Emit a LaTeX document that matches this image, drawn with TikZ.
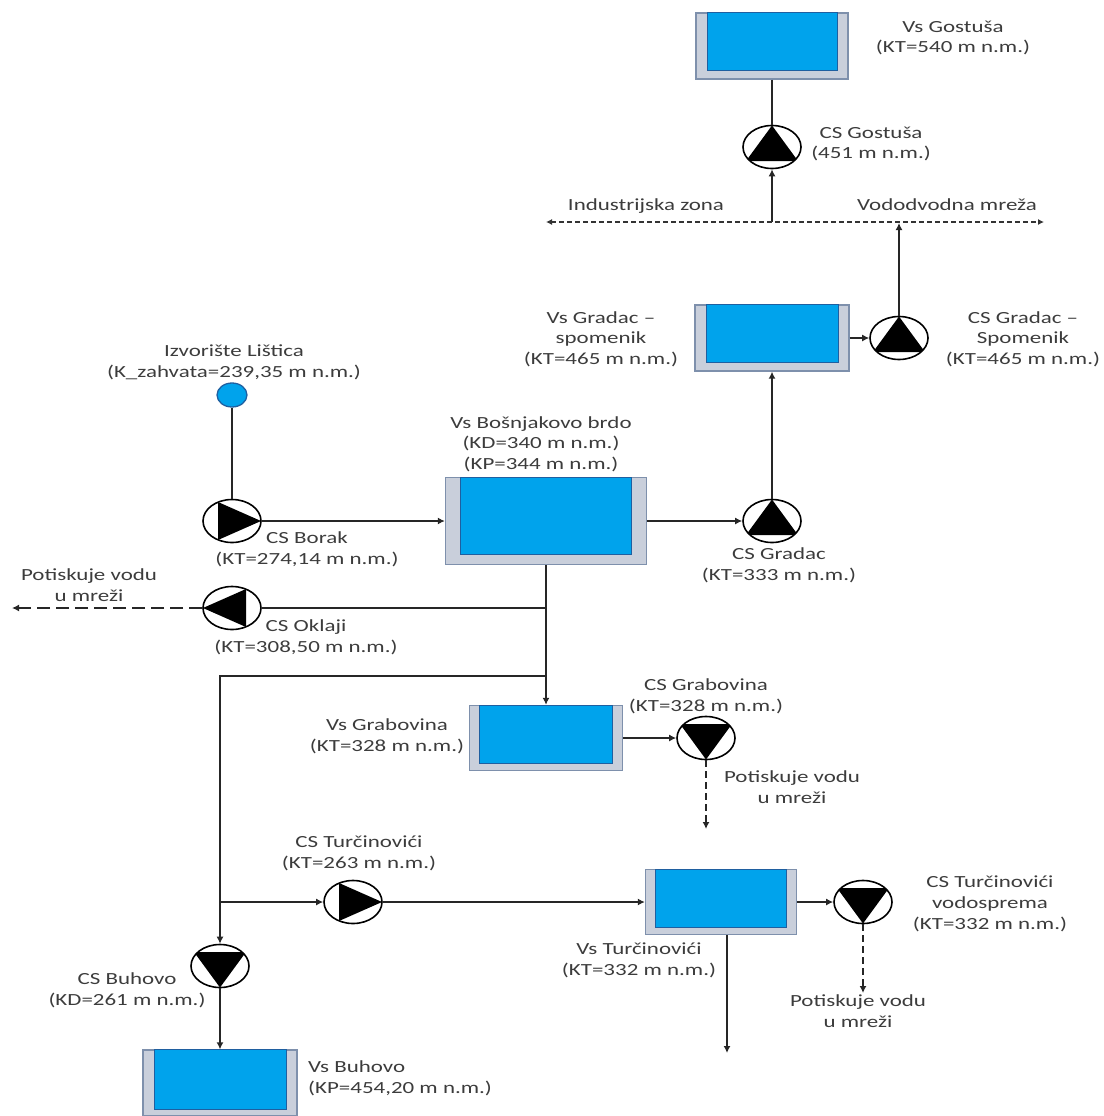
\documentclass[tikz,border=0pt]{standalone}
\usepackage{xcolor}
\usepackage{fontspec}
\setmainfont[FakeStretch=1.35]{Carlito}
\usetikzlibrary{shapes.geometric,arrows.meta}
\definecolor{tankgray}{HTML}{C9CFDB}
\definecolor{tankedge}{HTML}{7E90AC}
\definecolor{waterblue}{HTML}{00A3EC}
\definecolor{wateredge}{HTML}{1F5FA0}
\definecolor{labelgray}{HTML}{3C3C3C}
\tikzset{
	lbl/.style={align=center,inner sep=0,text=labelgray,font=\fontsize{17}{20.7}\selectfont},
	tankbox/.style={draw=tankedge,line width=1.3pt,fill=tankgray,inner sep=0},
	waterbox/.style={draw=wateredge,line width=1pt,fill=waterblue,inner sep=0,anchor=north},
	pumpbox/.style={ellipse,draw=black,line width=1.6pt,fill=white,inner sep=0,minimum width=58,minimum height=43},
	pumpup/.style={pumpbox,path picture={\fill[black] (path picture bounding box.north)
		-- ([shift={(26,14)}]path picture bounding box.center)
		-- ([shift={(-26,14)}]path picture bounding box.center) -- cycle;}},
	pumpdown/.style={pumpbox,path picture={\fill[black] (path picture bounding box.south)
		-- ([shift={(26,-14)}]path picture bounding box.center)
		-- ([shift={(-26,-14)}]path picture bounding box.center) -- cycle;}},
	pumpright/.style={pumpbox,path picture={\fill[black] (path picture bounding box.east)
		-- ([shift={(-14,-19)}]path picture bounding box.center)
		-- ([shift={(-14,19)}]path picture bounding box.center) -- cycle;}},
	pumpleft/.style={pumpbox,path picture={\fill[black] (path picture bounding box.west)
		-- ([shift={(14,-19)}]path picture bounding box.center)
		-- ([shift={(14,19)}]path picture bounding box.center) -- cycle;}},
	pipe/.style={line width=1.5pt,color=black!85},
	stem/.style={line width=2.4pt,color=black!85},
	tip/.style={-{Latex[length=7pt,width=7pt]}},
	netflow/.style={line width=1.1pt,color=black!80,dash pattern=on 5pt off 3pt,{Latex[length=6pt,width=6pt]}-{Latex[length=6pt,width=6pt]}},
	outflow/.style={line width=1.4pt,color=black!85,dash pattern=on 13pt off 6pt,tip},
	downflow/.style={line width=2pt,color=black!85,dash pattern=on 7pt off 4pt,tip},
}
\begin{document}
\begin{tikzpicture}[x=1pt,y=-1pt]
\useasboundingbox (0,0) rectangle (1103,1116);
% tanks
\foreach \name/\x/\y/\w/\h/\mx/\my in {Gostusa/772/46/152/66/11/8,Gradac/772/338/154/66/11/8,Bosnjakovo/546/521/201/87/15/10,
	Grabovina/546/738/153/65/10/7,Turcinovici/721/902/151/65/10/7,Buhovo/220/1083/154/66/11/6}{
	\node[tankbox,minimum width=\w,minimum height=\h] (tank\name) at (\x,\y) {};
	\node[waterbox,minimum width={\w-2*\mx},minimum height={\h-\my}] (water\name) at (tank\name.north) {};
}
% pumps
\node[pumpup] (pumpGostusa) at (772,147) {};
\node[pumpup] (pumpSpomenik) at (899,338) {};
\node[pumpup] (pumpGradac) at (772,521) {};
\node[pumpright] (pumpBorak) at (232,521) {};
\node[pumpleft] (pumpOklaji) at (232,608) {};
\node[pumpdown] (pumpGrabovina) at (706,738) {};
\node[pumpright] (pumpTurcinovici) at (353,902) {};
\node[pumpdown] (pumpVodosprema) at (863,902) {};
\node[pumpdown] (pumpBuhovo) at (220,966) {};
\node[ellipse,draw=wateredge,line width=1.3pt,fill=waterblue,minimum width=30,minimum height=24,inner sep=0] (izvor) at (232,395) {};
% free ends and branch points
\coordinate (netLeft) at (546,222);
\coordinate (netRight) at (1044,222);
\coordinate (netGostusa) at (772,222);
\coordinate (netSpomenik) at (899,223);
\coordinate (splitOklaji) at (546,608);
\coordinate (splitBuhovo) at (546,676);
\coordinate (splitTurcinovici) at (220,902);
\coordinate (endOklaji) at (12,608);
\coordinate (endGrabovina) at (706,829);
\coordinate (endVodosprema) at (863,993);
\coordinate (tankOut) at (727,935);
\coordinate (endTank) at (727,1053);
% pipes
\draw[stem] (tankGostusa) -- (pumpGostusa);
\draw[stem,tip] (netGostusa) -- (pumpGostusa);
\draw[netflow] (netLeft) -- (netRight);
\draw[stem,tip] (pumpSpomenik) -- (netSpomenik);
\draw[pipe,tip] (tankGradac) -- (pumpSpomenik);
\draw[stem,tip] (pumpGradac) -- (tankGradac);
\draw[pipe,tip] (tankBosnjakovo) -- (pumpGradac);
\draw[stem] (izvor) -- (pumpBorak);
\draw[pipe,tip] (pumpBorak) -- (tankBosnjakovo);
\draw[stem,tip] (tankBosnjakovo) -- (tankGrabovina);
\draw[pipe] (splitOklaji) -- (pumpOklaji);
\draw[outflow] (pumpOklaji) -- (endOklaji);
\draw[pipe] (splitBuhovo) -| (splitTurcinovici);
\draw[stem,tip] (splitTurcinovici) -- (pumpBuhovo);
\draw[pipe,tip] (splitTurcinovici) -- (pumpTurcinovici);
\draw[pipe,tip] (pumpTurcinovici) -- (tankTurcinovici);
\draw[stem,tip] (pumpBuhovo) -- (tankBuhovo);
\draw[pipe,tip] (tankGrabovina) -- (pumpGrabovina);
\draw[downflow] (pumpGrabovina) -- (endGrabovina);
\draw[pipe,tip] (tankTurcinovici) -- (pumpVodosprema);
\draw[downflow] (pumpVodosprema) -- (endVodosprema);
\draw[stem,tip] (tankOut) -- (endTank);
% labels
\node[lbl] (lblTankGostusa) at (953,38) {Vs Gostuša\\(KT=540 m n.m.)};
\node[lbl] (lblPumpGostusa) at (871,144) {CS Gostuša\\(451 m n.m.)};
\node[lbl] (lblZona) at (646,206) {Industrijska zona};
\node[lbl] (lblMreza) at (947,205) {Vododvodna mreža};
\node[lbl] (lblTankGradac) at (601,339) {Vs Gradac --\\spomenik\\(KT=465 m n.m.)};
\node[lbl] (lblPumpSpomenik) at (1023,339) {CS Gradac --\\Spomenik\\(KT=465 m n.m.)};
\node[lbl] (lblIzvor) at (234,362) {Izvorište Lištica\\(K\_zahvata=239,35 m n.m.)};
\node[lbl] (lblTankBosnjakovo) at (541,444) {Vs Bošnjakovo brdo\\(KD=340 m n.m.)\\(KP=344 m n.m.)};
\node[lbl] (lblPumpBorak) at (307,549) {CS Borak\\(KT=274,14 m n.m.)};
\node[lbl] (lblPumpGradac) at (779,565) {CS Gradac\\(KT=333 m n.m.)};
\node[lbl] (lblOklajiVoda) at (89,585) {Potiskuje vodu\\u mreži};
\node[lbl] (lblPumpOklaji) at (306,637) {CS Oklaji\\(KT=308,50 m n.m.)};
\node[lbl] (lblPumpGrabovina) at (706,696) {CS Grabovina\\(KT=328 m n.m.)};
\node[lbl] (lblTankGrabovina) at (387,736) {Vs Grabovina\\(KT=328 m n.m.)};
\node[lbl] (lblGrabovinaVoda) at (792,787) {Potiskuje vodu\\u mreži};
\node[lbl] (lblPumpTurcinovici) at (359,853) {CS Turčinovići\\(KT=263 m n.m.)};
\node[lbl] (lblTankTurcinovici) at (639,960) {Vs Turčinovići\\(KT=332 m n.m.)};
\node[lbl] (lblPumpVodosprema) at (990,904) {CS Turčinovići\\vodosprema\\(KT=332 m n.m.)};
\node[lbl] (lblVodospremaVoda) at (858,1011) {Potiskuje vodu\\u mreži};
\node[lbl] (lblPumpBuhovo) at (127,990) {CS Buhovo\\(KD=261 m n.m.)};
\node[lbl,align=left,anchor=west] (lblTankBuhovo) at (308,1078) {Vs Buhovo\\(KP=454,20 m n.m.)};
\end{tikzpicture}
\end{document}
